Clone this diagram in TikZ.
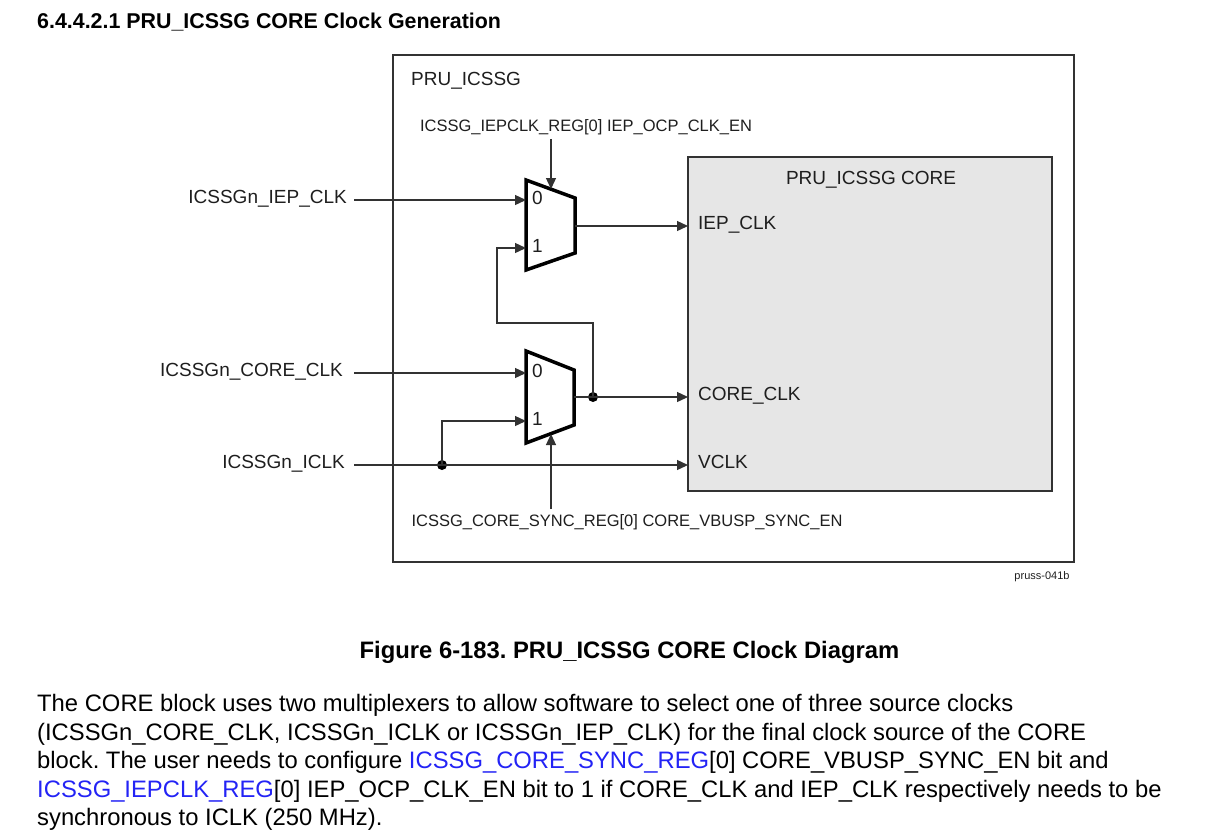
\documentclass[tikz,border=0pt]{standalone}
\usepackage{fontspec}
\setmainfont{Liberation Sans}
\usetikzlibrary{arrows.meta, positioning, calc}
\definecolor{inkgray}{RGB}{30,30,30}
\definecolor{wiregray}{RGB}{50,50,50}
\definecolor{coregray}{RGB}{230,230,230}
\definecolor{linkblue}{RGB}{35,35,245}
\frenchspacing

\begin{document}
\begin{tikzpicture}[x=1pt, y=-1pt, font=\fontsize{19}{22}\selectfont,
  lbl/.style={inner xsep=0pt, inner ysep=0pt, text height=0.72em, text depth=0pt, text=inkgray},
  sellbl/.style={lbl, font=\fontsize{16.5}{19}\selectfont},
  wire/.style={wiregray, line width=1.3pt},
  sig/.style={wire, -{Triangle[length=11pt, width=10pt]}},
  muxline/.style={black, line width=3.5pt, line join=miter},
  jdot/.style={circle, fill=black, inner sep=0pt, minimum size=10pt},
  body/.style={font=\fontsize{23.8}{28}\selectfont, anchor=base west, inner sep=0pt}]
  \useasboundingbox (0,0) rectangle (1215,831);

  \node[anchor=base west, inner sep=0pt, font=\fontsize{21.4}{24}\selectfont\bfseries] (title) at (37,28) {6.4.4.2.1 PRU\_ICSSG CORE Clock Generation};

  \node[draw=wiregray, line width=1.3pt, minimum width=681pt, minimum height=507pt, inner sep=0pt] (pru) at (733.5,308.5) {};
  \node[lbl, anchor=west] (prulbl) at (411,82) {PRU\_ICSSG};

  \node[draw=wiregray, fill=coregray, line width=1.3pt, minimum width=364pt, minimum height=334pt, inner sep=0pt] (core) at (870,324) {};
  \node[lbl] (corelbl) at (871,181) {PRU\_ICSSG CORE};

  % multiplexers
  \draw[muxline] (526,180) -- (575,198) -- (575,253) -- (526,270) -- cycle;
  \draw[muxline] (526,351) -- (574,370) -- (574,425) -- (526,443) -- cycle;
  \coordinate (muxa0) at (526,200);
  \coordinate (muxa1) at (526,248);
  \coordinate (muxaout) at (575,226);
  \coordinate (muxasel) at (551,189);
  \coordinate (muxb0) at (526,373);
  \coordinate (muxb1) at (526,421);
  \coordinate (muxbout) at (574,397);
  \coordinate (muxbsel) at (551,434);
  \node[lbl, anchor=west] (a0) at (532,201) {0};
  \node[lbl, anchor=west] (a1) at (532,249) {1};
  \node[lbl, anchor=west] (b0) at (532,374) {0};
  \node[lbl, anchor=west] (b1) at (532,422) {1};

  % inputs
  \node[lbl, inner xsep=7pt, anchor=east] (iepin) at (354,200) {ICSSGn\_IEP\_CLK};
  \node[lbl, inner xsep=11pt, anchor=east] (corein) at (354,373) {ICSSGn\_CORE\_CLK};
  \node[lbl, inner xsep=9pt, anchor=east] (iclkin) at (354,465) {ICSSGn\_ICLK};

  % core ports
  \node[lbl, inner xsep=10pt, anchor=west] (iepclk) at (688,226) {IEP\_CLK};
  \node[lbl, inner xsep=10pt, anchor=west] (coreclk) at (688,397) {CORE\_CLK};
  \node[lbl, inner xsep=10pt, anchor=west] (vclk) at (688,465) {VCLK};

  % select bits
  \node[sellbl, inner ysep=7pt] (selA) at (586,128) {ICSSG\_IEPCLK\_REG[0] IEP\_OCP\_CLK\_EN};
  \node[sellbl, inner ysep=10pt] (selB) at (627,523) {ICSSG\_CORE\_SYNC\_REG[0] CORE\_VBUSP\_SYNC\_EN};

  \node[jdot] (coredot) at (593,397) {};
  \node[jdot] (iclkdot) at (442,465) {};
  \coordinate (fbturn) at (497,323);

  \draw[sig] (iepin) -- (muxa0);
  \draw[sig] (corein) -- (muxb0);
  \draw[sig] (iclkin) -- (vclk);
  \draw[sig] (iclkdot.center) |- (muxb1);
  \draw[sig] (muxaout) -- (iepclk);
  \draw[wire] (muxbout) -- (coredot.center);
  \draw[sig] (coredot.center) -- (coreclk);
  \draw[sig] (coredot.center) |- (fbturn) |- (muxa1);
  \draw[sig] (selA.south -| muxasel) -- (muxasel);
  \draw[sig] (selB.north -| muxbsel) -- (muxbsel);

  \node[inner sep=0pt, font=\fontsize{11}{12}\selectfont, text=inkgray] (figid) at (1042,577) {pruss-041b};

  \node[anchor=base, inner sep=0pt, font=\fontsize{23.8}{28}\selectfont\bfseries] (caption) at (629.5,658) {Figure 6-183. PRU\_ICSSG CORE Clock Diagram};

  \node[body] (para1) at (37,711.5) {The CORE block uses two multiplexers to allow software to select one of three source clocks};
  \node[body] (para2) at (37,740) {(ICSSGn\_CORE\_CLK, ICSSGn\_ICLK or ICSSGn\_IEP\_CLK) for the final clock source of the CORE};
  \node[body] (para3) at (37,768.5) {block. The user needs to configure \textcolor{linkblue}{ICSSG\_CORE\_SYNC\_REG}[0] CORE\_VBUSP\_SYNC\_EN bit and};
  \node[body] (para4) at (37,797) {\textcolor{linkblue}{ICSSG\_IEPCLK\_REG}[0] IEP\_OCP\_CLK\_EN bit to 1 if CORE\_CLK and IEP\_CLK respectively needs to be};
  \node[body] (para5) at (37,825.5) {synchronous to ICLK (250 MHz).};
\end{tikzpicture}
\end{document}
